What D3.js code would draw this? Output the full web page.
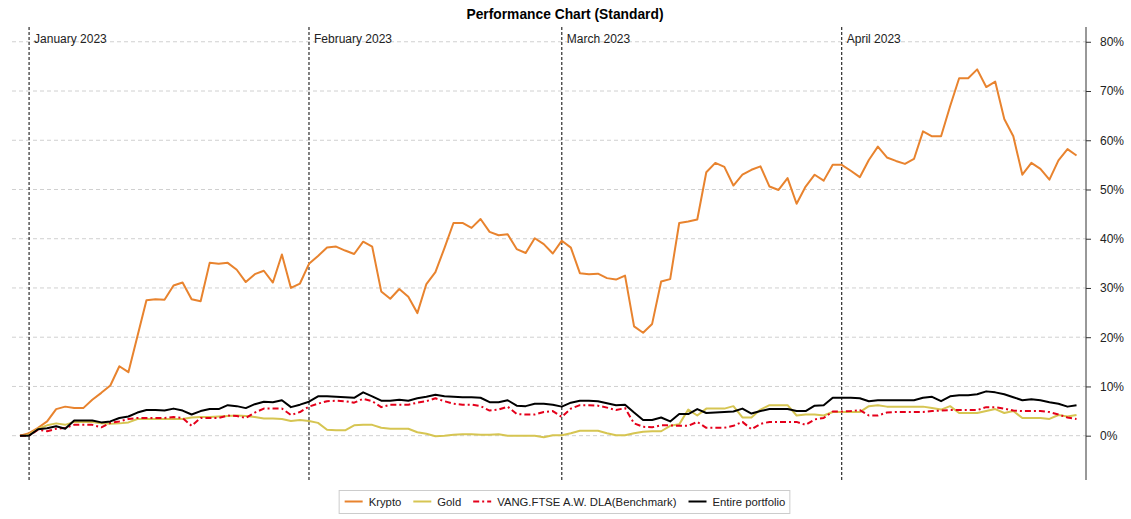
<!DOCTYPE html>
<html>
<head>
<meta charset="utf-8">
<script src="https://cdn.jsdelivr.net/npm/d3@7"></script>
<style>
  body { margin: 0; background: #fff; font-family: "Liberation Sans", Arial, sans-serif; }
  svg text { fill: #222; }
</style>
</head>
<body>
<svg id="chart" width="1131" height="519"></svg>
<script>
// daily values, first point is 2022-12-31
const startDate = Date.UTC(2022, 11, 31);

const krypto = [0, 0.5, 1.6, 2.9, 5.4, 5.9, 5.6, 5.6, 7.3, 8.7, 10.2, 14.1, 12.9, 20.2, 27.5, 27.7, 27.6, 30.5, 31.1, 27.7,
  27.3, 35.1, 34.9, 35.1, 33.7, 31.2, 32.8, 33.5, 31.1, 36.8, 30.0, 30.9, 34.9, 36.5, 38.2, 38.4, 37.6, 36.9, 39.4, 38.4,
  29.3, 27.8, 29.8, 28.2, 24.9, 30.8, 33.2, 38.1, 43.2, 43.2, 42.2, 44.0, 41.4, 40.7, 40.9, 37.9, 37.1, 40.1, 38.9, 37.0,
  39.6, 38.2, 33.0, 32.8, 32.9, 32.0, 31.7, 32.5, 22.2, 20.9, 22.7, 31.3, 31.8, 43.2, 43.5, 43.9, 53.5, 55.4, 54.6, 50.8,
  53.0, 54.0, 54.7, 50.6, 49.9, 52.3, 47.1, 50.6, 53.0, 51.8, 55.0, 55.0, 53.8, 52.5, 56.0, 58.7, 56.5, 55.8, 55.2, 56.2,
  61.8, 60.8, 60.8, 66.9, 72.6, 72.6, 74.4, 70.8, 71.9, 64.3, 60.8, 53.0, 55.4, 54.2, 52.0, 55.9, 58.2, 56.9];

const gold = [0, 0.2, 1.4, 2.1, 2.5, 2.2, 2.8, 2.8, 2.8, 2.5, 2.4, 2.5, 2.7, 3.4, 3.4, 3.4, 3.4, 3.4, 3.4, 3.7,
  3.8, 3.8, 3.9, 4.0, 4.1, 4.0, 3.8, 3.5, 3.5, 3.4, 3.0, 3.2, 3.0, 2.6, 1.2, 1.1, 1.1, 2.1, 2.2, 2.2,
  1.6, 1.4, 1.4, 1.4, 0.7, 0.4, -0.1, 0, 0.2, 0.3, 0.3, 0.2, 0.2, 0.3, 0, 0, 0, 0, -0.3, 0.1,
  0.1, 0.5, 1.0, 1.0, 1.0, 0.5, 0.1, 0.1, 0.5, 0.8, 0.9, 0.9, 2.0, 2.3, 5.3, 4.1, 5.5, 5.5, 5.5, 6.0,
  3.7, 3.7, 5.3, 6.2, 6.2, 6.2, 4.1, 4.3, 4.3, 4.1, 4.8, 4.8, 4.8, 4.8, 6.0, 6.2, 5.9, 5.9, 5.9, 5.9,
  5.9, 5.6, 5.3, 6.0, 4.6, 4.6, 4.6, 5.0, 5.4, 4.6, 5.0, 3.6, 3.6, 3.6, 3.4, 4.2, 3.9, 4.2];

const benchmark = [0, 0, 1.2, 0.9, 1.4, 1.6, 2.2, 2.2, 2.2, 1.7, 2.6, 2.9, 3.4, 3.6, 3.6, 3.6, 3.6, 3.8, 3.6, 2.0,
  3.6, 3.6, 3.6, 4.1, 4.0, 3.6, 4.7, 5.5, 5.5, 5.5, 4.2, 4.8, 5.9, 6.5, 7.0, 7.1, 7.0, 6.7, 7.5, 7.0,
  5.8, 6.3, 6.3, 6.3, 6.7, 7.0, 7.6, 7.0, 6.5, 6.3, 6.3, 6.0, 5.1, 5.3, 5.9, 4.4, 4.3, 4.3, 4.8, 5.0,
  3.8, 5.5, 6.2, 6.2, 6.1, 5.7, 5.2, 5.6, 2.5, 1.8, 1.7, 2.1, 2.1, 2.0, 2.0, 2.8, 1.6, 1.6, 1.6, 2.0,
  2.8, 1.3, 2.4, 2.8, 2.8, 2.8, 2.8, 2.2, 3.3, 3.6, 4.9, 4.9, 5.0, 5.2, 4.1, 4.1, 4.7, 4.8, 4.8, 4.8,
  4.8, 5.0, 5.1, 5.2, 5.2, 5.2, 5.2, 5.8, 5.8, 5.5, 5.1, 5.0, 5.0, 5.0, 4.8, 4.3, 3.7, 3.4];

const portfolio = [0, 0, 1.3, 1.5, 1.9, 1.4, 3.1, 3.1, 3.1, 2.7, 2.9, 3.6, 3.9, 4.7, 5.2, 5.2, 5.1, 5.5, 5.1, 4.3,
  5.0, 5.4, 5.4, 6.2, 6.0, 5.6, 6.4, 6.9, 6.8, 7.2, 5.8, 6.3, 6.9, 8.0, 8.0, 7.9, 7.8, 7.7, 8.8, 8.0,
  7.1, 7.1, 7.3, 7.1, 7.6, 7.9, 8.3, 8.0, 7.9, 7.8, 7.8, 7.7, 6.8, 6.8, 7.2, 6.1, 6.0, 6.5, 6.5, 6.3,
  5.9, 6.7, 7.1, 7.1, 7.0, 6.6, 6.2, 6.3, 4.7, 3.2, 3.2, 3.7, 2.9, 4.4, 4.4, 5.4, 4.6, 4.7, 4.8, 4.9,
  5.5, 4.5, 5.0, 5.4, 5.4, 5.4, 5.0, 5.0, 6.1, 6.2, 7.7, 7.7, 7.7, 7.6, 7.0, 7.2, 7.2, 7.2, 7.2, 7.2,
  7.7, 7.9, 7.0, 8.0, 8.2, 8.2, 8.4, 9.0, 8.8, 8.4, 7.8, 7.2, 7.4, 7.2, 6.8, 6.5, 5.9, 6.2];

const seriesNames = ["Krypto", "Gold", "VANG.FTSE A.W. DLA(Benchmark)", "Entire portfolio"];
const seriesValues = [krypto, gold, benchmark, portfolio];
const seriesColors = ["#e8832e", "#d6c552", "#e4001b", "#000000"];
const seriesDash = [null, null, "6,3,2,3", null];

const monthStarts = [Date.UTC(2023, 0, 1), Date.UTC(2023, 1, 1), Date.UTC(2023, 2, 1), Date.UTC(2023, 3, 1)];
const monthLabels = ["January 2023", "February 2023", "March 2023", "April 2023"];
const yTicks = [0, 10, 20, 30, 40, 50, 60, 70, 80];

const DAY = 86400000;
const dates = krypto.map((d, i) => new Date(startDate + i * DAY));

const svg = d3.select("#chart");

const plotLeft = 12, plotRight = 1086, plotTop = 27, plotBottom = 480;

const xScale = d3.scaleUtc()
                 .domain([new Date(startDate - 0.89 * DAY), new Date(startDate + 118.05 * DAY)])
                 .range([plotLeft, plotRight]);

const yScale = d3.scaleLinear()
                 .domain([-9, 83])
                 .range([plotBottom, plotTop]);

// title
svg.append("text")
   .attr("x", 565)
   .attr("y", 19)
   .attr("text-anchor", "middle")
   .style("font-size", "13.8px")
   .style("font-weight", "bold")
   .style("fill", "#000")
   .text("Performance Chart (Standard)");

// horizontal grid
svg.append("g")
   .selectAll("line")
   .data(yTicks)
   .enter().append("line")
   .attr("x1", plotLeft)
   .attr("x2", plotRight)
   .attr("y1", d => yScale(d))
   .attr("y2", d => yScale(d))
   .attr("stroke", "#d0d0d0")
   .attr("stroke-dasharray", "4,3");

// month separators
const months = svg.append("g");
months.selectAll("line")
      .data(monthStarts)
      .enter().append("line")
      .attr("x1", d => xScale(new Date(d)))
      .attr("x2", d => xScale(new Date(d)))
      .attr("y1", plotTop)
      .attr("y2", plotBottom)
      .attr("stroke", "#000")
      .attr("stroke-dasharray", "3,2");
months.selectAll("text")
      .data(monthStarts)
      .enter().append("text")
      .attr("x", d => xScale(new Date(d)) + 5)
      .attr("y", 43)
      .style("font-size", "12px")
      .text((d, i) => monthLabels[i]);

// right axis
const yAxis = d3.axisRight(yScale)
                .tickValues(yTicks)
                .tickSize(5)
                .tickPadding(9)
                .tickFormat(d => d + "%");
const ax = svg.append("g")
              .attr("transform", `translate(${plotRight},0)`)
              .call(yAxis);
ax.select(".domain").attr("d", `M0,${plotTop}V${plotBottom}`).attr("stroke", "#333");
ax.selectAll(".tick line").attr("stroke", "#333");
ax.selectAll(".tick text").style("font-size", "12px").style("font-family", "Liberation Sans, Arial, sans-serif").attr("fill", "#222");

// lines
const line = d3.line()
               .x((d, i) => xScale(dates[i]))
               .y(d => yScale(d));

svg.append("g")
   .selectAll("path")
   .data(seriesValues)
   .enter().append("path")
   .attr("d", d => line(d))
   .attr("fill", "none")
   .attr("stroke", (d, i) => seriesColors[i])
   .attr("stroke-width", 2)
   .attr("stroke-linejoin", "round")
   .attr("stroke-dasharray", (d, i) => seriesDash[i]);

// legend
const legend = svg.append("g");
const box = legend.append("rect")
                  .attr("fill", "#fff")
                  .attr("stroke", "#ccc");
let lx = 0;
seriesNames.forEach((name, i) => {
  legend.append("line")
        .attr("x1", lx)
        .attr("x2", lx + 18)
        .attr("y1", 501.5)
        .attr("y2", 501.5)
        .attr("stroke", seriesColors[i])
        .attr("stroke-width", 2)
        .attr("stroke-dasharray", seriesDash[i]);
  const t = legend.append("text")
                  .attr("x", lx + 24)
                  .attr("y", 505.5)
                  .style("font-size", "11.3px")
                  .text(name);
  lx += 24 + t.node().getComputedTextLength() + 12;
});
const legendW = lx - 12;
const lx0 = 565 - legendW / 2;
legend.selectAll("line, text").attr("transform", `translate(${lx0},0)`);
box.attr("x", lx0 - 5.5).attr("y", 490.5).attr("width", legendW + 10).attr("height", 23);
</script>
</body>
</html>
